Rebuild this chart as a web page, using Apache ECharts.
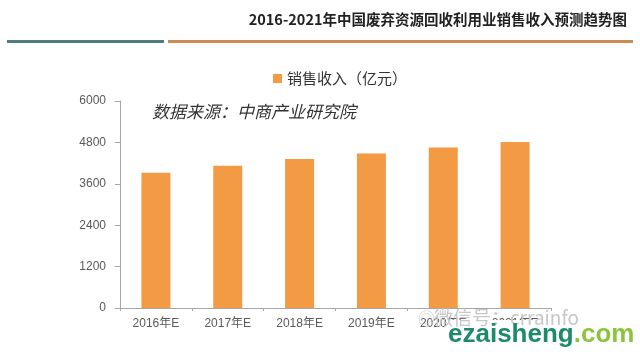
<!DOCTYPE html>
<html>
<head>
<meta charset="utf-8">
<script src="https://cdn.jsdelivr.net/npm/echarts@6/dist/echarts.min.js"></script>
<style>html,body{margin:0;padding:0;background:#fff;}#c{width:640px;height:359px;}</style>
</head>
<body>
<div id="c"></div>
<script>
var categories = ['2016年E', '2017年E', '2018年E', '2019年E', '2020年E', '2021年E'];
var revenue = [3920, 4120, 4320, 4480, 4650, 4810];
var seriesName = '销售收入（亿元）';
var titleText = '2016-2021年中国废弃资源回收利用业销售收入预测趋势图';
var sourceText = '数据来源：中商产业研究院';

var chart = echarts.init(document.getElementById('c'), null, {renderer: 'canvas'});
var font = '"Noto Sans CJK SC", "Noto Sans", sans-serif';
chart.setOption({
  backgroundColor: '#ffffff',
  animation: false,
  title: {
    text: titleText,
    right: 8, top: 7,
    textStyle: {fontFamily: font, fontSize: 14.5, fontWeight: 'bold', color: '#222'}
  },
  legend: {
    data: [seriesName],
    left: 268, top: 66,
    itemWidth: 9, itemHeight: 9, itemGap: 5,
    icon: 'rect',
    textStyle: {fontFamily: font, fontSize: 15, color: '#333'}
  },
  grid: {left: 120, right: 89, top: 101, bottom: 51},
  xAxis: {
    type: 'category',
    data: categories,
    axisLine: {lineStyle: {color: '#a6a6a6', width: 1}},
    axisTick: {show: true, length: 3, lineStyle: {color: '#a6a6a6'}},
    axisLabel: {fontFamily: '"Liberation Sans", ' + font, fontSize: 12, color: '#595959', margin: 10}
  },
  yAxis: {
    type: 'value',
    min: 0, max: 6000, interval: 1200,
    axisLine: {show: true, lineStyle: {color: '#a6a6a6', width: 1}},
    axisTick: {show: true, inside: false, length: 5, lineStyle: {color: '#a6a6a6'}},
    splitLine: {show: false},
    axisLabel: {fontFamily: '"Liberation Sans", sans-serif', fontSize: 12, color: '#595959', margin: 14,
      formatter: function (v) { return String(v); }}
  },
  series: [{
    name: seriesName,
    type: 'bar',
    data: revenue,
    barWidth: 29,
    itemStyle: {color: '#F39A44'}
  }],
  graphic: [
    {type: 'rect', z: 100, shape: {x: 7, y: 40, width: 157, height: 3}, style: {fill: '#527b7e'}},
    {type: 'rect', z: 100, shape: {x: 168, y: 40, width: 465, height: 3}, style: {fill: '#c98c52'}},
    {type: 'text', z: 100, left: 152, top: 103, style: {text: sourceText, font: 'italic 17px ' + font, fill: '#333'}},
    {type: 'rect', z: 100, shape: {x: 446, y: 320, width: 166, height: 32}, style: {fill: '#ffffff'}},
    {type: 'text', z: 101, left: 434, top: 308, style: {text: '微信号：crrainfo', font: '19px ' + font, fill: '#c8c8c8'}},
    {type: 'text', z: 101, left: 418, top: 310, style: {text: '◎', font: '17px ' + font, fill: '#cfcfcf'}},
    {type: 'text', z: 102, left: 448, top: 322, style: {rich: {
      a: {font: 'bold 26px "Liberation Sans", Arial, sans-serif', fill: '#1d8a6c'},
      b: {font: 'bold 26px "Liberation Sans", Arial, sans-serif', fill: '#8cc43e'}
    }, text: '{a|ezaisheng}{b|.com}'}}
  ]
});
</script>
</body>
</html>
